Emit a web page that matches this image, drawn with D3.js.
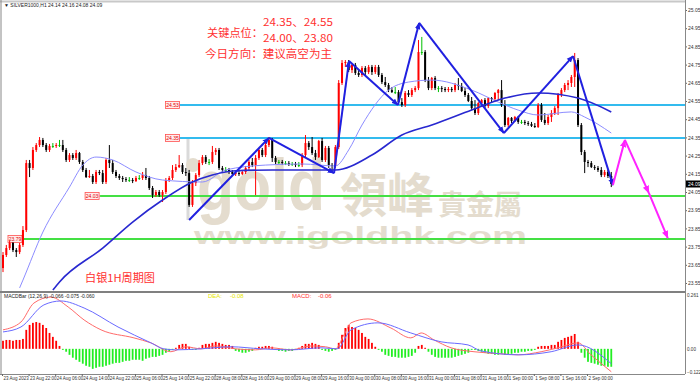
<!DOCTYPE html>
<html><head><meta charset="utf-8">
<script src="https://cdn.jsdelivr.net/npm/d3@7"></script>
<style>body{margin:0;background:#fff}svg{display:block}</style>
</head><body>
<svg id="c" width="700" height="382"></svg>
<script>
// ---------- DATA ----------
const firstOpen = 23.632;
const closes = [23.704,23.742,23.770,23.731,23.720,23.759,23.841,24.209,24.182,24.281,
24.308,24.336,24.308,24.281,24.303,24.303,24.308,24.308,24.281,24.226,
24.253,24.237,24.264,24.215,24.171,24.132,24.138,24.105,24.160,24.154,
24.105,24.226,24.209,24.160,24.138,24.127,24.121,24.116,24.116,24.110,
24.127,24.127,24.143,24.127,24.072,24.033,24.050,24.033,24.050,24.116,
24.127,24.171,24.187,24.198,24.160,24.154,23.979,24.099,24.143,24.209,
24.242,24.215,24.215,24.270,24.281,24.182,24.171,24.171,24.160,24.149,
24.154,24.149,24.160,24.182,24.215,24.198,24.237,24.281,24.253,24.308,
24.336,24.237,24.215,24.215,24.209,24.209,24.204,24.204,24.198,24.198,
24.253,24.319,24.297,24.264,24.242,24.330,24.226,24.292,24.198,24.193,
24.297,24.649,24.759,24.764,24.720,24.748,24.704,24.693,24.731,24.709,
24.737,24.709,24.737,24.693,24.654,24.638,24.610,24.599,24.599,24.544,
24.528,24.594,24.583,24.610,24.621,24.819,24.819,24.665,24.621,24.676,
24.621,24.621,24.616,24.610,24.616,24.610,24.638,24.632,24.605,24.583,
24.550,24.511,24.484,24.539,24.555,24.522,24.566,24.561,24.594,24.610,
24.528,24.418,24.457,24.440,24.462,24.435,24.435,24.429,24.424,24.413,
24.407,24.528,24.446,24.429,24.462,24.484,24.511,24.583,24.610,24.638,
24.649,24.682,24.775,24.418,24.270,24.215,24.209,24.187,24.182,24.171,
24.143,24.160,24.138,24.094];
const highs = [23.720,23.759,23.781,23.775,23.742,23.770,23.863,24.226,24.226,24.297,
24.319,24.352,24.347,24.319,24.314,24.319,24.319,24.336,24.336,24.292,
24.264,24.264,24.281,24.270,24.226,24.182,24.171,24.149,24.171,24.171,
24.171,24.237,24.308,24.226,24.171,24.149,24.138,24.132,24.132,24.127,
24.138,24.143,24.160,24.182,24.138,24.083,24.061,24.061,24.061,24.127,
24.138,24.198,24.204,24.253,24.209,24.182,24.171,24.116,24.154,24.226,
24.253,24.253,24.231,24.303,24.292,24.292,24.193,24.187,24.182,24.171,
24.165,24.165,24.171,24.193,24.226,24.237,24.253,24.292,24.292,24.319,
24.352,24.347,24.248,24.226,24.226,24.220,24.220,24.215,24.215,24.215,
24.264,24.363,24.330,24.352,24.281,24.336,24.347,24.303,24.303,24.209,
24.308,24.665,24.775,24.775,24.775,24.759,24.759,24.720,24.742,24.742,
24.748,24.748,24.748,24.748,24.704,24.682,24.649,24.627,24.627,24.610,
24.566,24.605,24.610,24.621,24.632,24.885,24.902,24.830,24.682,24.682,
24.687,24.632,24.632,24.627,24.627,24.627,24.649,24.676,24.649,24.621,
24.594,24.572,24.555,24.544,24.561,24.566,24.572,24.572,24.599,24.616,
24.665,24.555,24.462,24.462,24.468,24.468,24.446,24.446,24.440,24.435,
24.429,24.539,24.539,24.484,24.473,24.500,24.522,24.594,24.621,24.649,
24.665,24.693,24.814,24.786,24.429,24.281,24.226,24.220,24.198,24.193,
24.187,24.171,24.171,24.160];
const lows = [23.610,23.693,23.731,23.720,23.693,23.709,23.748,23.830,24.132,24.171,
24.270,24.297,24.297,24.270,24.270,24.292,24.292,24.297,24.270,24.215,
24.215,24.226,24.226,24.204,24.160,24.127,24.127,24.094,24.094,24.143,
24.094,24.094,24.182,24.149,24.127,24.116,24.105,24.105,24.105,24.099,
24.105,24.116,24.116,24.116,24.061,24.017,24.023,24.023,23.995,24.039,
24.105,24.116,24.160,24.182,24.149,24.138,23.968,23.968,24.083,24.132,
24.198,24.204,24.198,24.204,24.253,24.171,24.160,24.160,24.149,24.138,
24.138,24.138,24.143,24.149,24.171,24.187,24.033,24.226,24.242,24.242,
24.297,24.215,24.204,24.204,24.198,24.198,24.193,24.193,24.187,24.187,
24.187,24.242,24.281,24.253,24.226,24.237,24.215,24.215,24.182,24.160,
24.182,24.286,24.638,24.737,24.709,24.704,24.693,24.682,24.682,24.693,
24.698,24.693,24.698,24.682,24.643,24.627,24.599,24.594,24.588,24.533,
24.517,24.517,24.572,24.572,24.599,24.610,24.803,24.654,24.610,24.610,
24.610,24.599,24.599,24.599,24.599,24.599,24.599,24.610,24.599,24.572,
24.544,24.500,24.473,24.473,24.517,24.511,24.511,24.544,24.544,24.555,
24.517,24.407,24.407,24.429,24.435,24.424,24.424,24.418,24.413,24.407,
24.402,24.402,24.435,24.418,24.418,24.435,24.473,24.473,24.572,24.599,
24.610,24.627,24.627,24.407,24.253,24.154,24.187,24.182,24.171,24.160,
24.132,24.132,24.127,24.077];
// moving averages read at sample bars: [bar, price]
const fastMA = [[5,23.523],[6,23.566],[12,23.830],[20,24.077],[24,24.198],[28,24.242],[33,24.226],
[40,24.160],[48,24.116],[60,24.105],[67,24.171],[79,24.198],[90,24.204],[100,24.193],[104,24.281],
[108,24.418],[116,24.610],[122,24.654],[129,24.665],[141,24.610],[149,24.544],[155,24.500],
[161,24.473],[171,24.490],[175,24.462],[183,24.374]];
const slowMA = [[15,23.511],[17,23.556],[30,23.742],[39,23.885],[48,24.006],[57,24.105],[63,24.143],
[69,24.165],[81,24.171],[100,24.171],[111,24.253],[120,24.363],[129,24.418],[141,24.500],
[151,24.566],[161,24.594],[173,24.566],[183,24.490]];
const zigzag = [[56,23.896],[80,24.347],[99.6,24.154],[104.1,24.770],[118.8,24.528],[125.2,24.979],
[150.7,24.374],[171.5,24.797],[183.5,24.088]];
const forecast = [[183.5,24.088],[187.1,24.336],[194.3,24.045],[200,23.797]];
const levels = [{p:24.528,label:"24.53",color:"#33bbee",from:53.5,lx:49.2},
{p:24.347,label:"24.35",color:"#33bbee",from:53.5,lx:49.2},
{p:24.028,label:"24.03",color:"#44e044",from:29.5,lx:25},
{p:23.792,label:"23.79",color:"#44e044",from:5.6,lx:1.8}];
const priceTicks = [25.05,24.95,24.85,24.75,24.65,24.55,24.45,24.35,24.25,24.15,24.05,23.95,23.85,23.75,23.65,23.55];
const xTickBars = [0,8,16,24,32,40,48,56,64,72,80,88,96,104,112,120,128,136,144,152,160,168,176];
const xTickLabels = ["23 Aug 2023","23 Aug 22:00","24 Aug 06:00","24 Aug 14:00","24 Aug 22:00","25 Aug 06:00",
"25 Aug 14:00","25 Aug 22:00","28 Aug 08:00","28 Aug 16:00","29 Aug 00:00","29 Aug 08:00","29 Aug 16:00",
"30 Aug 00:00","30 Aug 08:00","30 Aug 16:00","31 Aug 00:00","31 Aug 08:00","31 Aug 16:00","1 Sep 00:00",
"1 Sep 08:00","1 Sep 16:00","2 Sep 00:00"];
const macdHist = [0.039,0.043,0.043,0.039,0.043,0.043,0.048,0.092,0.116,0.126,
0.130,0.126,0.116,0.101,0.077,0.058,0.039,0.014,-0.005,-0.014,
-0.029,-0.043,-0.053,-0.063,-0.072,-0.082,-0.087,-0.097,-0.092,-0.087,
-0.087,-0.082,-0.077,-0.072,-0.068,-0.068,-0.063,-0.058,-0.058,-0.053,
-0.053,-0.053,-0.058,-0.048,-0.043,-0.039,-0.039,-0.034,-0.029,-0.019,
-0.014,-0.005,0.005,0.019,0.024,0.024,0.010,-0.005,-0.005,0.005,
0.019,0.024,0.024,0.029,0.034,0.029,0.024,0.019,0.019,0.014,
-0.010,-0.014,-0.019,-0.019,-0.014,-0.010,0.005,0.010,0.010,0.014,
0.014,0.010,-0.005,-0.010,-0.010,-0.014,-0.010,-0.010,-0.005,0.005,
0.014,0.024,0.024,0.029,0.024,0.019,-0.005,-0.010,-0.014,-0.010,
-0.005,0.029,0.068,0.101,0.116,0.106,0.101,0.092,0.077,0.058,
0.048,0.029,0.010,-0.005,-0.014,-0.029,-0.034,-0.039,-0.039,-0.043,
-0.043,-0.043,-0.039,-0.034,-0.019,0.014,0.019,0.005,-0.014,-0.029,
-0.039,-0.043,-0.043,-0.043,-0.043,-0.043,-0.039,-0.034,-0.029,-0.024,
-0.019,-0.005,-0.005,-0.010,-0.014,-0.019,-0.024,-0.024,-0.029,-0.029,
-0.024,-0.029,-0.029,-0.024,-0.019,-0.019,-0.014,-0.014,-0.010,-0.010,
-0.005,0.010,0.014,0.014,0.014,0.019,0.019,0.034,0.043,0.053,
0.058,0.063,0.072,0.034,-0.019,-0.043,-0.063,-0.068,-0.072,-0.077,
-0.082,-0.082,-0.087,-0.087];
const macdLine = [[0,0.092],[5.4,0.130],[9.3,0.222],[14.4,0.251],[19.6,0.203],[24.4,0.140],[29.5,0.092],
[39.4,0.053],[44.5,0.029],[50.5,-0.014],[55,0.010],[59.6,0],[64,0.014],[70,0],[76,-0.005],[80.6,0.005],
[86.6,-0.005],[92.7,0.014],[97,0.010],[100,0],[102.6,0.068],[104.7,0.126],[109.8,0.145],[116.7,0.101],
[122.7,0.053],[125.8,0.077],[129.7,0.043],[134.8,0.005],[141.7,-0.014],[149.8,-0.024],[155,-0.029],
[161.9,-0.014],[167,0.005],[173,0.029],[176.9,-0.029],[183,-0.111]];
const signalLine = [[0,0.082],[5.4,0.106],[12.3,0.213],[17.4,0.232],[24.4,0.198],[34.6,0.106],[44.5,0.029],
[48.4,0],[52,-0.005],[59.6,0],[68.6,0.010],[77.6,0],[86.6,-0.005],[95.7,0.005],[100.5,0],[104.7,0.092],
[112.8,0.126],[122.7,0.077],[131.8,0.034],[139.9,0.019],[143.8,-0.010],[155,-0.029],[164.9,-0.014],
[173,0.019],[183,-0.072]];
const macdTicks = [0.261,0,-0.122];

// ---------- LAYOUT ----------
const svg = d3.select("#c");
const W = 700, H = 382, axisX = 685;
const mainTop = 3, mainBot = 291, macdTop = 293, macdBot = 374;
const x = d3.scaleLinear().domain([0,176]).range([2,587]);
const y = d3.scaleLinear().domain([23.55,25.05]).range([283,10]);
const ym = d3.scaleLinear().domain([-0.122,0.261]).range([374,295]);
const cx = i => x(i) + 1;
const font = "Liberation Sans, Arial, sans-serif";

const defs = svg.append("defs");
defs.append("clipPath").attr("id","mainClip").append("rect").attr("x",2).attr("y",mainTop).attr("width",axisX-2).attr("height",mainBot-mainTop);
defs.append("clipPath").attr("id","macdClip").append("rect").attr("x",2).attr("y",macdTop).attr("width",axisX-2).attr("height",macdBot-macdTop);
function marker(id,color,s){
  defs.append("marker").attr("id",id).attr("markerUnits","userSpaceOnUse").attr("viewBox","0 0 10 10")
   .attr("refX",9).attr("refY",5).attr("markerWidth",s).attr("markerHeight",s).attr("orient","auto")
   .append("path").attr("d","M0,1 L10,5 L0,9 z").attr("fill",color);
}
marker("arrB","#2020e0",7);
marker("arrM","#ff22ff",8);

// frame
svg.append("rect").attr("x",0).attr("y",0).attr("width",W).attr("height",H).attr("fill","#fff");
svg.append("line").attr("x1",0).attr("x2",axisX).attr("y1",1.5).attr("y2",1.5).attr("stroke","#c8c8c8").attr("stroke-width",2);
svg.append("line").attr("x1",1).attr("x2",1).attr("y1",0).attr("y2",macdBot).attr("stroke","#888").attr("stroke-width",1);

// ---------- WATERMARK ----------
const wm = svg.append("g").attr("fill","#e0d7c6").attr("opacity",0.85);
wm.append("rect").attr("x",186.5).attr("y",137).attr("width",3).attr("height",83).attr("fill","#d4d4d4");
wm.append("circle").attr("cx",193).attr("cy",165).attr("r",7);
wm.append("text").attr("x",197).attr("y",210).attr("font-family","Liberation Sans, sans-serif").attr("font-weight","bold")
  .attr("font-size",72).attr("textLength",128).attr("lengthAdjust","spacingAndGlyphs").text("gold");
wm.append("text").attr("x",340).attr("y",212).attr("font-family","Noto Sans CJK TC").attr("font-weight","bold")
  .attr("font-size",47).text("領峰");
wm.append("text").attr("x",438).attr("y",215).attr("font-family","Noto Sans CJK TC").attr("font-weight","bold")
  .attr("font-size",28).text("貴金屬");
wm.append("text").attr("x",194).attr("y",244).attr("font-family","Liberation Sans, sans-serif").attr("font-weight","bold")
  .attr("font-size",23).attr("textLength",333).attr("lengthAdjust","spacingAndGlyphs").text("www.igoldhk.com");

// ---------- MAIN PANEL ----------
const main = svg.append("g").attr("clip-path","url(#mainClip)");
levels.forEach(l=>{
  main.append("line").attr("x1",x(l.from)).attr("x2",axisX).attr("y1",y(l.p)).attr("y2",y(l.p))
    .attr("stroke",l.color).attr("stroke-width",2);
  main.append("line").attr("x1",x(l.lx)+14).attr("x2",x(l.from)).attr("y1",y(l.p)).attr("y2",y(l.p))
    .attr("stroke","#ff6060").attr("stroke-width",0.8);
  main.append("rect").attr("x",x(l.lx)).attr("y",y(l.p)-3.5).attr("width",14).attr("height",7)
    .attr("fill","#ffecec").attr("stroke","#ff5050").attr("stroke-width",0.8);
  main.append("text").attr("x",x(l.lx)+7).attr("y",y(l.p)+2).attr("text-anchor","middle")
    .attr("font-size",5).attr("font-family",font).attr("fill","#e00000").text(l.label);
});
const bars = closes.map((c,i)=>({i,o:i===0?firstOpen:closes[i-1],h:highs[i],l:lows[i],c}));
const candleColor = d => d.c>d.o ? "#ff0000" : (d.c<d.o ? "#000000" : "#00c000");
main.selectAll("line.wick").data(bars).join("line").attr("class","wick")
  .attr("x1",d=>cx(d.i)).attr("x2",d=>cx(d.i)).attr("y1",d=>y(d.h)).attr("y2",d=>y(d.l))
  .attr("stroke",candleColor).attr("stroke-width",1);
main.selectAll("rect.body").data(bars).join("rect").attr("class","body")
  .attr("x",d=>cx(d.i)-1).attr("width",2)
  .attr("y",d=>y(Math.max(d.o,d.c))).attr("height",d=>Math.max(1,Math.abs(y(d.o)-y(d.c))))
  .attr("fill",candleColor);
const lineGen = d3.line().x(d=>cx(d[0])).y(d=>y(d[1])).curve(d3.curveMonotoneX);
main.append("path").attr("d",lineGen(fastMA)).attr("fill","none").attr("stroke","#8c8cff").attr("stroke-width",1);
main.append("path").attr("d",lineGen(slowMA)).attr("fill","none").attr("stroke","#2828d0").attr("stroke-width",1.6);
for(let k=0;k<zigzag.length-1;k++){
  main.append("line").attr("x1",cx(zigzag[k][0])).attr("y1",y(zigzag[k][1]))
   .attr("x2",cx(zigzag[k+1][0])).attr("y2",y(zigzag[k+1][1]))
   .attr("stroke","#2020e0").attr("stroke-width",2).attr("marker-end","url(#arrB)");
}
for(let k=0;k<forecast.length-1;k++){
  main.append("line").attr("x1",cx(forecast[k][0])).attr("y1",y(forecast[k][1]))
   .attr("x2",cx(forecast[k+1][0])).attr("y2",y(forecast[k+1][1]))
   .attr("stroke","#ff22ff").attr("stroke-width",2).attr("marker-end","url(#arrM)");
}

// texts
const red = "#ff3030";
const cjk = "Noto Sans CJK SC";
function t(xp,yp,str,len,size){
  svg.append("text").attr("x",xp).attr("y",yp).attr("font-family",cjk).attr("font-size",size||11)
   .attr("fill",red).attr("textLength",len).attr("lengthAdjust","spacingAndGlyphs").text(str);
}
t(263,26,"24.35、24.55",70);
t(207,37,"关键点位：",56);
t(263,42,"24.00、23.80",70);
t(205,58,"今日方向：建议高空为主",127);
t(85,282,"白银1H周期图",70);

svg.append("text").attr("x",4).attr("y",7).attr("font-size",5).attr("font-family",font).attr("fill","#222")
  .text("▼ SILVER1000,H1  24.14 24.16 24.08 24.09");

// right axis main
const ra = svg.append("g").attr("transform",`translate(${axisX},0)`)
  .call(d3.axisRight(y).tickValues(priceTicks).tickSize(2).tickFormat(d3.format(".2f")));
ra.select(".domain").remove();
ra.selectAll("text").attr("font-size",5).attr("font-family",font).attr("fill","#333").attr("x",3);
ra.selectAll("line").attr("stroke","#666");
svg.append("line").attr("x1",axisX+0.5).attr("x2",axisX+0.5).attr("y1",0).attr("y2",macdBot).attr("stroke","#888");
const last = closes[closes.length-1];
svg.append("rect").attr("x",axisX+1).attr("y",y(last)-3.5).attr("width",14).attr("height",7).attr("fill","#000");
svg.append("text").attr("x",axisX+3).attr("y",y(last)+2).attr("font-size",5).attr("font-family",font).attr("fill","#fff")
  .text(d3.format(".2f")(last));

svg.append("line").attr("x1",0).attr("x2",axisX).attr("y1",292).attr("y2",292).attr("stroke","#808080").attr("stroke-width",2);

// ---------- MACD ----------
const mg = svg.append("g").attr("clip-path","url(#macdClip)");
mg.selectAll("rect.h").data(macdHist).join("rect").attr("class","h")
  .attr("x",(d,i)=>cx(i)-0.9).attr("width",1.8)
  .attr("y",d=>Math.min(ym(d),ym(0))).attr("height",d=>Math.abs(ym(d)-ym(0)))
  .attr("fill",d=>d>=0?"#ff0000":"#22ee22");
const mline = d3.line().x(d=>cx(d[0])).y(d=>ym(d[1])).curve(d3.curveMonotoneX);
mg.append("path").attr("d",mline(macdLine)).attr("fill","none").attr("stroke","#ff6a6a").attr("stroke-width",1);
mg.append("path").attr("d",mline(signalLine)).attr("fill","none").attr("stroke","#6a6aff").attr("stroke-width",1);

svg.append("text").attr("x",4).attr("y",298).attr("font-size",5).attr("font-family",font).attr("fill","#222")
  .text("MACDBar (12,26,9) -0.066 -0.075 -0.060");
svg.append("text").attr("x",208).attr("y",298).attr("font-size",6).attr("font-family",font).attr("fill","#e6e600").text("DEA:");
svg.append("text").attr("x",230).attr("y",298).attr("font-size",6).attr("font-family",font).attr("fill","#e6e600").text("-0.08");
svg.append("text").attr("x",292).attr("y",298).attr("font-size",6).attr("font-family",font).attr("fill","#ff3030").text("MACD:");
svg.append("text").attr("x",318).attr("y",298).attr("font-size",6).attr("font-family",font).attr("fill","#ff3030").text("-0.06");

const rm = svg.append("g").attr("transform",`translate(${axisX},0)`)
  .call(d3.axisRight(ym).tickValues(macdTicks).tickSize(0).tickFormat(d=>d===0?"0.00":d3.format(".3f")(d)));
rm.select(".domain").remove();
rm.selectAll("text").attr("font-size",4.6).attr("font-family",font).attr("fill","#333").attr("x",2);
rm.selectAll(".tick").filter(d=>d<0).select("text").attr("dy","-0.2em");

svg.append("line").attr("x1",0).attr("x2",axisX).attr("y1",macdBot+0.5).attr("y2",macdBot+0.5).attr("stroke","#888");
const ba = svg.append("g").attr("transform",`translate(0,${macdBot})`)
  .call(d3.axisBottom(x).tickValues(xTickBars).tickSize(2).tickFormat((d,i)=>xTickLabels[i]));
ba.select(".domain").remove();
ba.selectAll("line").attr("stroke","#666");
ba.selectAll("text").attr("font-size",4.5).attr("font-family",font).attr("fill","#333").attr("text-anchor","start").attr("dx",1).attr("y",3);
</script>
</body></html>
